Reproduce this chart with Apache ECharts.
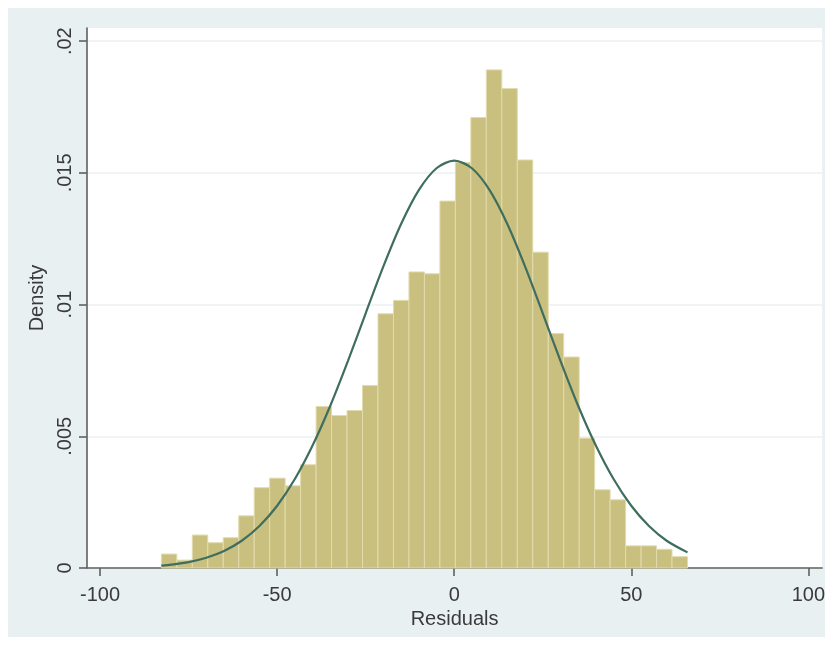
<!DOCTYPE html>
<html>
<head>
<meta charset="utf-8">
<title>Residuals histogram</title>
<script src="https://cdn.jsdelivr.net/npm/echarts@6/dist/echarts.min.js"></script>
<style>
  html, body { margin: 0; padding: 0; background: #ffffff; }
  #chart { width: 828px; height: 647px; }
</style>
</head>
<body>
<div id="chart"></div>
<script>
// Histogram bins: left edge of the first bin and common bin width (residual units)
const binStart = -82.7;
const binWidth = 4.37;

// Density of each bin, left to right
const binDensity = [
  0.00053, 0.00030, 0.00125, 0.00096, 0.00115, 0.00198, 0.00305, 0.00341,
  0.00312, 0.00392, 0.00613, 0.00579, 0.00598, 0.00693, 0.00965, 0.01016,
  0.01124, 0.01117, 0.01393, 0.01539, 0.01710, 0.01891, 0.01820, 0.01549,
  0.01199, 0.00890, 0.00801, 0.00493, 0.00297, 0.00259, 0.00084, 0.00084,
  0.00071, 0.00043
];

// Overlaid normal density curve (residual, density)
const curveX = [-82.7, -80, -75, -70, -65, -60, -55, -50, -45, -40, -35, -30, -25, -20, -15, -10, -5,
                0, 5, 10, 15, 20, 25, 30, 35, 40, 45, 50, 55, 60, 65.88];
const curveY = [0.000091, 0.000126, 0.000226, 0.000390, 0.000647, 0.001035, 0.001594, 0.002364,
                0.003378, 0.004649, 0.006161, 0.007865, 0.009670, 0.011450, 0.013059, 0.014344,
                0.015175, 0.015463, 0.015175, 0.014344, 0.013059, 0.011450, 0.009670, 0.007865,
                0.006161, 0.004649, 0.003378, 0.002364, 0.001594, 0.001035, 0.000593];

// Axis ticks
const xTicks = [-100, -50, 0, 50, 100];
const yTicks = [0, 0.005, 0.01, 0.015, 0.02];

const bars = binDensity.map((d, i) => [binStart + i * binWidth, binStart + (i + 1) * binWidth, d]);
const curve = curveX.map((x, i) => [x, curveY[i]]);

const FONT = '"Liberation Sans", Arial, sans-serif';
const chart = echarts.init(document.getElementById('chart'), null, { renderer: 'canvas' });

chart.setOption({
  animation: false,
  backgroundColor: '#ffffff',
  graphic: [{
    type: 'rect', z: -10, silent: true,
    shape: { x: 8, y: 8, width: 817, height: 629 },
    style: { fill: '#e9f0f2' }
  }],
  grid: {
    left: 87, right: 5, top: 28, bottom: 79,
    show: true, backgroundColor: '#ffffff', borderWidth: 0
  },
  xAxis: {
    type: 'value',
    min: -103.7, max: 103.9,
    name: 'Residuals', nameLocation: 'middle', nameGap: 39,
    nameTextStyle: { fontFamily: FONT, fontSize: 20, color: '#3a3a3a' },
    axisLine: { show: true, onZero: false, lineStyle: { color: '#606060', width: 1.6 } },
    axisTick: { show: true, length: 8, customValues: xTicks, lineStyle: { color: '#606060', width: 1.6 } },
    axisLabel: {
      customValues: xTicks, margin: 17,
      fontFamily: FONT, fontSize: 20, color: '#3a3a3a',
      formatter: v => String(v)
    },
    splitLine: { show: false }
  },
  yAxis: {
    type: 'value',
    min: 0, max: 0.0205,
    name: 'Density', nameLocation: 'middle', nameGap: 37, nameRotate: 90,
    nameTextStyle: { fontFamily: FONT, fontSize: 20, color: '#3a3a3a' },
    axisLine: { show: true, onZero: false, lineStyle: { color: '#606060', width: 1.6 } },
    axisTick: { show: true, length: 8, customValues: yTicks, lineStyle: { color: '#606060', width: 1.6 } },
    axisLabel: {
      customValues: yTicks, rotate: 90, margin: 12,
      fontFamily: FONT, fontSize: 20, color: '#3a3a3a',
      formatter: v => v === 0 ? '0' : String(+v.toFixed(4)).replace(/^0/, '')
    },
    splitLine: { show: true, lineStyle: { color: '#edf0f1', width: 1.5 } }
  },
  series: [
    {
      type: 'custom',
      name: 'histogram',
      data: bars,
      z: 2,
      renderItem: (params, api) => {
        const topLeft = api.coord([api.value(0), api.value(2)]);
        const bottomRight = api.coord([api.value(1), 0]);
        return {
          type: 'rect',
          shape: {
            x: topLeft[0], y: topLeft[1],
            width: bottomRight[0] - topLeft[0],
            height: bottomRight[1] - topLeft[1]
          },
          style: { fill: '#c9bf7f', stroke: '#e2dbad', lineWidth: 1 }
        };
      }
    },
    {
      type: 'line',
      name: 'normal',
      data: curve,
      z: 3,
      smooth: 0.3,
      showSymbol: false,
      lineStyle: { color: '#3f6e5e', width: 2.2 }
    }
  ]
});
</script>
</body>
</html>
